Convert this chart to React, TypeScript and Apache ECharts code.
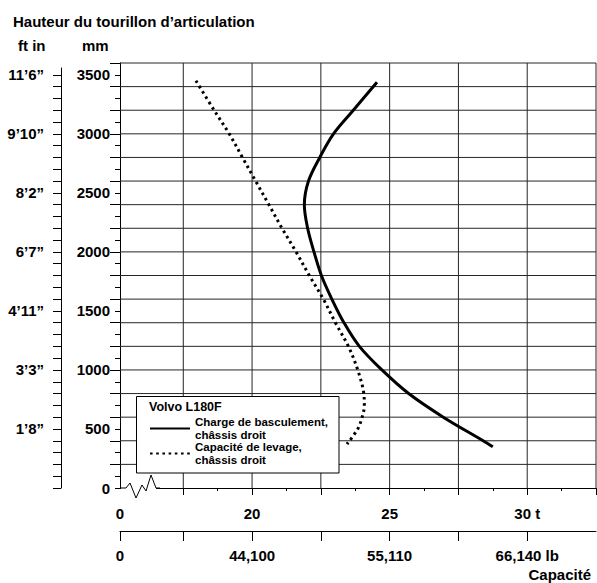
import React, { useEffect, useRef } from 'react';
import * as echarts from 'echarts';

const FONT = "'Liberation Sans', Arial, Helvetica, sans-serif";

// Charge de basculement, châssis droit (t, mm)
const tippingLoadT = [24.54, 23.68, 22.96, 22.46, 22.05, 21.9, 22.02, 22.25, 22.52, 22.9, 23.34, 23.9, 24.72, 25.69, 26.95, 28.4, 28.75];
const tippingHeightMm = [3437, 3200, 3000, 2800, 2600, 2400, 2200, 2000, 1800, 1600, 1400, 1200, 1000, 800, 600, 400, 349];

// Capacité de levage, châssis droit (t, mm)
const liftCapacityT = [17.96, 18.62, 19.17, 19.65, 20.13, 20.61, 21.09, 21.6, 22.08, 22.59, 23.03, 23.5, 23.84, 24.06, 24.08, 24.0, 23.84, 23.45];
const liftHeightMm = [3450, 3200, 3000, 2800, 2600, 2400, 2200, 2000, 1800, 1600, 1400, 1200, 1000, 800, 700, 600, 500, 372];

// Axes
const X_MIN = 15.2;
const X_MAX = 32.5;
const tMajorTicks = [17.5, 20, 22.5, 25, 27.5, 30, 32.5];
const tMinorTicks = [18.75, 21.25, 23.75, 26.25, 28.75, 31.25];
const tLabelValues = [X_MIN, 20, 25, 30];
const LB_PER_T = 2204.62;
const lbTicks = [X_MIN * LB_PER_T, 38580, 44100, 49610, 55110, 60630, 66140];
const lbLabelValues = [X_MIN * LB_PER_T, 44100, 55110, 66140];
const Y_MAX = 3600;
const mmLabelValues = [0, 500, 1000, 1500, 2000, 2500, 3000, 3500];
const ftInLabels = ['1’8”', '3’3”', '4’11”', '6’7”', '8’2”', '9’10”', '11’6”'];
const FT_AXIS_MAX = Y_MAX * 420 / 425;
const mmGridLines = Array.from({ length: 18 }, (_, i) => (i + 1) * 200);
const mm100Ticks = Array.from({ length: 36 }, (_, i) => i * 100);

const SERIES_TIP = 'Charge de basculement, châssis droit';
const SERIES_LIFT = 'Capacité de levage, châssis droit';

const W = 597;
const H = 583;
const GRID_COLOR = '#262626';

const labelFont = { fontFamily: FONT, fontWeight: 'bold' as const, fontSize: 15, color: '#000' };

export default function App() {
  const ref = useRef<HTMLDivElement>(null);
  useEffect(() => {
    document.body.style.margin = '0';
    const chart = echarts.init(ref.current!, null, { renderer: 'svg' });
    const hidden = { axisLine: { show: false, onZero: false }, splitLine: { show: false }, axisLabel: { show: false } };

    // grid lines, placed through the axes' own scales
    const gridData: any[] = [];
    tMajorTicks.forEach((v) => { gridData.push([v, 0], [v, Y_MAX], [v, '-']); });
    mmGridLines.forEach((h) => { gridData.push([X_MIN, h], [X_MAX, h], [X_MAX, '-']); });

    const option: any = {
      animation: false,
      title: {
        text: 'Hauteur du tourillon d’articulation',
        left: 13,
        top: 14,
        padding: 0,
        textStyle: { ...labelFont },
      },
      grid: [
        { show: false, left: 120, top: 63, right: 1, bottom: 95 },
        { show: false, left: 61, top: 68, width: 20, bottom: 95 },
      ],
      legend: {
        orient: 'vertical',
        left: 149,
        top: 416,
        padding: 0,
        itemGap: 0,
        itemWidth: 40,
        itemHeight: 14,
        selectedMode: false,
        data: [SERIES_TIP, SERIES_LIFT],
        formatter: (n: string) => n.replace(', ', ',\n'),
        itemStyle: { opacity: 0 },
        textStyle: { fontFamily: FONT, fontWeight: 'bold', fontSize: 11.5, lineHeight: 12.5, color: '#000' },
        z: 9,
      },
      xAxis: [
        // tonnes axis
        {
          type: 'value', gridIndex: 0, position: 'bottom', min: X_MIN, max: X_MAX,
          axisLine: { show: true, onZero: false, lineStyle: { color: '#000', width: 1 } },
          axisTick: { show: true, customValues: tMajorTicks, length: 7, lineStyle: { color: '#000' } },
          splitLine: { show: false },
          axisLabel: {
            show: true, customValues: tLabelValues, margin: 18, ...labelFont,
            formatter: (v: number) => (Math.abs(v - X_MIN) < 1e-6 ? '0' : v === 30 ? '30 t' : String(v)),
          },
        },
        {
          type: 'value', gridIndex: 0, position: 'bottom', min: X_MIN, max: X_MAX, ...hidden,
          axisTick: { show: true, customValues: tMinorTicks, length: 3, lineStyle: { color: '#000' } },
        },
        // pounds axis
        {
          type: 'value', gridIndex: 0, position: 'bottom', offset: 43,
          min: X_MIN * LB_PER_T, max: X_MAX * LB_PER_T,
          axisLine: { show: true, onZero: false, lineStyle: { color: '#000', width: 1 } },
          axisTick: { show: true, customValues: lbTicks, length: 10, lineStyle: { color: '#000' } },
          splitLine: { show: false },
          axisLabel: {
            show: true, customValues: lbLabelValues, margin: 17, ...labelFont,
            formatter: (v: number) => (v < 40000 ? '0' : v.toLocaleString('en-US') + (v === 66140 ? ' lb' : '')),
          },
        },
        { type: 'value', gridIndex: 1, show: false, min: 0, max: 1 },
      ],
      yAxis: [
        // mm axis
        {
          type: 'value', gridIndex: 0, position: 'left', min: 0, max: Y_MAX, interval: 200,
          axisLine: { show: true, onZero: false, lineStyle: { color: '#000', width: 1 } },
          axisTick: { show: true, customValues: mmGridLines, length: 10, lineStyle: { color: '#000' } },
          splitLine: { show: false },
          axisLabel: { show: false },
        },
        {
          type: 'value', gridIndex: 0, position: 'left', min: 0, max: Y_MAX, interval: 100,
          axisLine: { show: false, onZero: false },
          axisTick: { show: true, customValues: mm100Ticks, length: 5, lineStyle: { color: '#000' } },
          splitLine: { show: false },
          axisLabel: { show: true, customValues: mmLabelValues, margin: 10, ...labelFont, formatter: (v: number) => String(v) },
        },
        // ft-in axis
        {
          type: 'value', gridIndex: 1, position: 'left', min: 0, max: FT_AXIS_MAX,
          axisLine: { show: true, onZero: false, lineStyle: { color: '#000', width: 1 } },
          axisTick: { show: true, customValues: mm100Ticks, length: 8, lineStyle: { color: '#000' } },
          splitLine: { show: false },
          axisLabel: {
            show: true, customValues: mmLabelValues.slice(1), margin: 17, ...labelFont,
            formatter: (v: number) => ftInLabels[Math.round(v / 500) - 1] ?? '',
          },
        },
      ],
      series: [
        {
          type: 'line', name: 'grille', xAxisIndex: 0, yAxisIndex: 0,
          data: gridData,
          smooth: false, connectNulls: false, symbol: 'none', showSymbol: false,
          silent: true, clip: false,
          emphasis: { disabled: true },
          itemStyle: { color: GRID_COLOR },
          lineStyle: { color: GRID_COLOR, width: 1 },
          z: 3,
        },
        {
          type: 'line', name: SERIES_TIP, xAxisIndex: 0, yAxisIndex: 0,
          data: tippingLoadT.map((t, i) => [t, tippingHeightMm[i]]),
          smooth: 0.35, symbol: 'none', showSymbol: false,
          itemStyle: { color: '#000' },
          lineStyle: { color: '#000', width: 3 },
          z: 3,
        },
        {
          type: 'line', name: SERIES_LIFT, xAxisIndex: 0, yAxisIndex: 0,
          data: liftCapacityT.map((t, i) => [t, liftHeightMm[i]]),
          smooth: 0.35, symbol: 'none', showSymbol: false,
          itemStyle: { color: '#000' },
          lineStyle: { color: '#000', width: 3, type: [2.6, 3.6], cap: 'butt' },
          z: 3,
        },
      ],
      graphic: [
        { type: 'rect', z: 7, shape: { x: 121, y: 484, width: 35, height: 7 }, style: { fill: '#fff' } },
        {
          type: 'polyline', z: 8,
          shape: { points: [[120, 488], [126, 488], [130, 483], [136, 498], [142, 485], [146, 491], [151, 475], [156, 488], [160, 488]] },
          style: { stroke: '#000', lineWidth: 1, fill: null },
        },
        { type: 'rect', z: 7, shape: { x: 136.5, y: 396.5, width: 202.5, height: 76.5 }, style: { fill: '#fff', stroke: '#000', lineWidth: 1 } },
        { type: 'text', z: 8, x: 149, y: 407, style: { text: 'Volvo L180F', font: `bold 12.5px ${FONT}`, fill: '#000', textVerticalAlign: 'middle' } },
        { type: 'text', z: 8, x: 18, y: 45, style: { text: 'ft in', font: `bold 15px ${FONT}`, fill: '#000', textVerticalAlign: 'middle' } },
        { type: 'text', z: 8, x: 82, y: 45, style: { text: 'mm', font: `bold 15px ${FONT}`, fill: '#000', textVerticalAlign: 'middle' } },
        { type: 'text', z: 8, x: 591, y: 574, style: { text: 'Capacité', font: `bold 15px ${FONT}`, fill: '#000', textAlign: 'right', textVerticalAlign: 'middle' } },
      ],
    };
    chart.setOption(option);
    return () => chart.dispose();
  }, []);
  return <div ref={ref} style={{ position: 'fixed', left: 0, top: 0, width: W, height: H, background: '#fff' }} />;
}
